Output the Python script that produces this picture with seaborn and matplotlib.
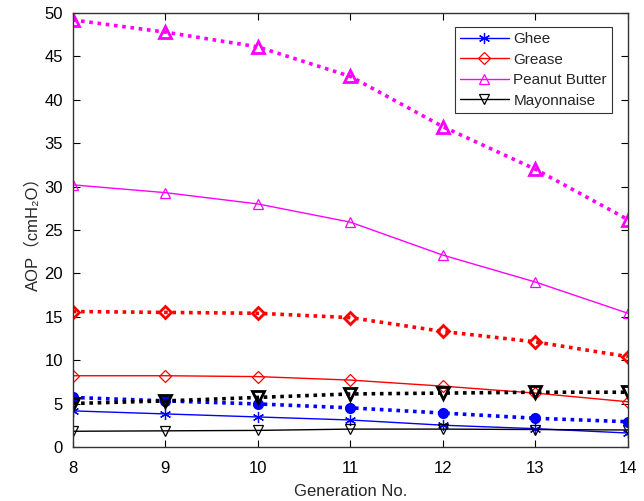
import matplotlib
matplotlib.use("Agg")
import matplotlib.pyplot as plt
import seaborn as sns
import pandas as pd

generation = [8, 9, 10, 11, 12, 13, 14]

ghee_solid = [4.15, 3.8, 3.45, 3.1, 2.5, 2.1, 1.6]
ghee_dotted = [5.7, 5.3, 4.95, 4.5, 3.9, 3.3, 2.9]
grease_solid = [8.2, 8.2, 8.1, 7.7, 7.0, 6.2, 5.2]
grease_dotted = [15.6, 15.5, 15.4, 14.9, 13.3, 12.1, 10.4]
peanut_solid = [30.2, 29.3, 28.0, 25.9, 22.1, 19.0, 15.4]
peanut_dotted = [49.2, 47.8, 46.1, 42.7, 36.9, 32.0, 26.2]
mayo_solid = [1.8, 1.85, 1.9, 2.05, 2.05, 2.0, 1.95]
mayo_dotted = [5.0, 5.3, 5.7, 6.1, 6.2, 6.3, 6.3]

series_names = ["Ghee", "Grease", "Peanut Butter", "Mayonnaise"]
x_ticks = [8, 9, 10, 11, 12, 13, 14]
y_ticks = [0, 5, 10, 15, 20, 25, 30, 35, 40, 45, 50]

sns.set_style("ticks")
plt.rcParams["font.family"] = ["Liberation Sans", "Noto Sans CJK SC", "DejaVu Sans"]
plt.rcParams["font.size"] = 12

fig = plt.figure(figsize=(6.44, 5.01), dpi=100)
ax = fig.add_axes([0.113, 0.108, 0.862, 0.866])

colors = ["#0000ff", "#ff0000", "#ff00ff", "#000000"]
solid = [ghee_solid, grease_solid, peanut_solid, mayo_solid]
dotted = [ghee_dotted, grease_dotted, peanut_dotted, mayo_dotted]
markers = [(6, 2, 0), "D", "^", "v"]
dot_markers = ["o", "D", "^", "v"]
solid_sizes = [8, 6, 7.5, 7.5]
dot_sizes = [6, 6.5, 8, 8]

for name, c, ys, m, ms in zip(series_names, colors, solid, markers, solid_sizes):
    df = pd.DataFrame({"x": generation, "y": ys})
    sns.lineplot(data=df, x="x", y="y", ax=ax, color=c, linewidth=1.0,
                 marker=m, markersize=ms, markerfacecolor="none",
                 markeredgecolor=c, markeredgewidth=0.9, label=name)

for name, c, ys, m, ms in zip(series_names, colors, dotted, dot_markers, dot_sizes):
    df = pd.DataFrame({"x": generation, "y": ys})
    sns.lineplot(data=df, x="x", y="y", ax=ax, color=c, linewidth=2.6,
                 linestyle=(0, (1, 1.3)), marker=m, markersize=ms,
                 markerfacecolor=c if m == "o" else "none",
                 markeredgecolor=c, markeredgewidth=2.0, label="_nolegend_")

ax.set_xlim(8, 14)
ax.set_ylim(0, 50)
ax.set_xticks(x_ticks)
ax.set_yticks(y_ticks)
ax.tick_params(direction="in", top=True, right=True, length=5, width=0.8,
               labelsize=12, colors="#000000")
ax.tick_params(axis="x", pad=10)
ax.tick_params(axis="y", pad=7)
for s in ax.spines.values():
    s.set_visible(True)
    s.set_color("#333333")
    s.set_linewidth(1.0)

ax.set_xlabel("Generation No.", fontsize=12, labelpad=6)
ax.set_ylabel("AOP（cmH₂O）", fontsize=12, labelpad=3)

leg = ax.legend(loc="upper right", bbox_to_anchor=(0.972, 0.968), frameon=True,
                fancybox=False, edgecolor="#000000", fontsize=11,
                handlelength=3.2, borderpad=0.35, labelspacing=0.42,
                handletextpad=0.3, borderaxespad=0)
leg.get_frame().set_linewidth(0.8)

fig.savefig("out.png", dpi=100)
